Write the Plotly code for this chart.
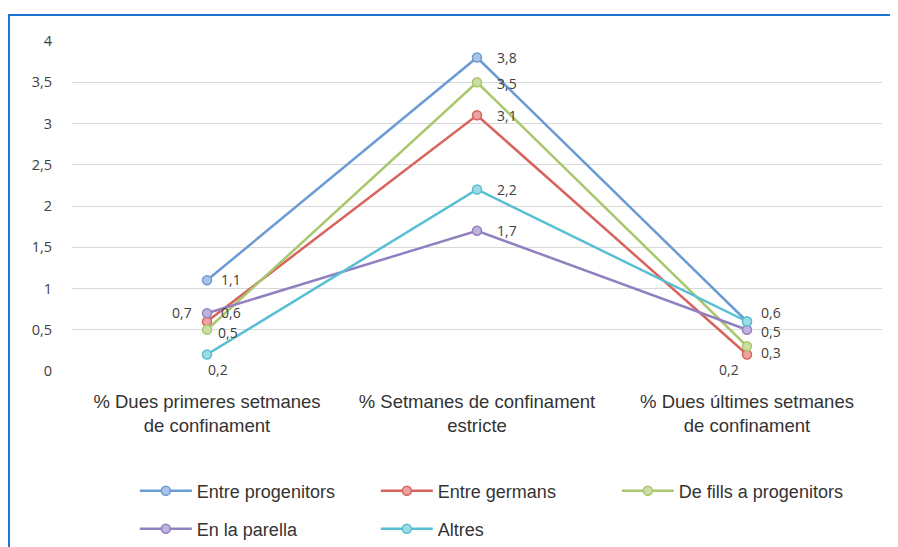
import plotly.graph_objects as go

categories = ["% Dues primeres setmanes<br>de confinament",
              "% Setmanes de confinament<br>estricte",
              "% Dues últimes setmanes<br>de confinament"]

series_names = ["Entre progenitors", "Entre germans", "De fills a progenitors",
                "En la parella", "Altres"]
entre_progenitors = [1.1, 3.8, 0.6]
entre_germans = [0.6, 3.1, 0.2]
de_fills = [0.5, 3.5, 0.3]
en_la_parella = [0.7, 1.7, 0.5]
altres = [0.2, 2.2, 0.6]
series_values = [entre_progenitors, entre_germans, de_fills, en_la_parella, altres]

line_colors = ["#6a9bd3", "#d8625c", "#a9c76d", "#9180c0", "#58bfd2"]
fill_colors = ["#a9c4e8", "#eba3a0", "#cbdea5", "#bfb3dd", "#9fdbe6"]

# label offsets (xshift, yshift) per series per point; None = no label
label_offsets = [
    [(24, 1), (30, 0), None],
    [(24, 9), (30, 0), (-18, -15)],
    [(21, -3), (30, -1), (24, -6)],
    [(-25, 1), (30, 0), (24, -2)],
    [(11, -15), (30, 0), (24, 9)],
]

fig = go.Figure()
for i, (name, vals) in enumerate(zip(series_names, series_values)):
    fig.add_trace(go.Scatter(
        x=categories, y=vals, name=name, mode="lines+markers",
        line=dict(color=line_colors[i], width=2.5),
        marker=dict(size=9, color=fill_colors[i],
                    line=dict(color=line_colors[i], width=1.5)),
        legend="legend" if i < 3 else "legend2",
    ))
    for j, v in enumerate(vals):
        off = label_offsets[i][j]
        if off is None:
            continue
        fig.add_annotation(x=categories[j], y=v, text=str(v).replace(".", ","),
                           showarrow=False, xshift=off[0], yshift=off[1],
                           font=dict(family="Open Sans", size=14, color="#404040"))

legend_common = dict(orientation="h", xanchor="left", yanchor="middle",
                     xref="container", yref="container",
                     entrywidth=174, entrywidthmode="pixels", itemwidth=52,
                     font=dict(family="Liberation Sans", size=18, color="#333333"),
                     bgcolor="rgba(0,0,0,0)")

# page body has an 8px margin, so the figure is sized 890x539
fig.update_layout(
    width=890, height=539,
    margin=dict(l=64, r=16, t=33, b=176),
    paper_bgcolor="white", plot_bgcolor="white",
    separators=",.",
    xaxis=dict(showgrid=False, showline=False, zeroline=False, automargin=False,
               range=[-0.5, 2.5], ticks="", ticklabelstandoff=17,
               tickfont=dict(family="Liberation Sans", size=18.5, color="#333333")),
    yaxis=dict(range=[0, 4], dtick=0.5, showgrid=True, gridcolor="#d9d9d9",
               gridwidth=1, zeroline=False, showline=False, ticks="", automargin=False,
               ticklabelstandoff=19,
               tickfont=dict(family="Open Sans", size=14.5, color="#404040")),
    legend=dict(x=0.1425, y=1 - 483 / 539, **legend_common),
    legend2=dict(x=0.1425, y=1 - 521 / 539, **legend_common),
    shapes=[
        dict(type="line", xref="paper", yref="paper",
             x0=(0 - 64) / 810, x1=(890 - 64) / 810,
             y0=(363 - 7) / 330, y1=(363 - 7) / 330,
             line=dict(color="#1f74d4", width=2)),
        dict(type="line", xref="paper", yref="paper",
             x0=(1 - 64) / 810, x1=(1 - 64) / 810,
             y0=(363 - 7) / 330, y1=(363 - 539) / 330,
             line=dict(color="#1f74d4", width=2)),
    ],
)

fig.write_html("out.html")
